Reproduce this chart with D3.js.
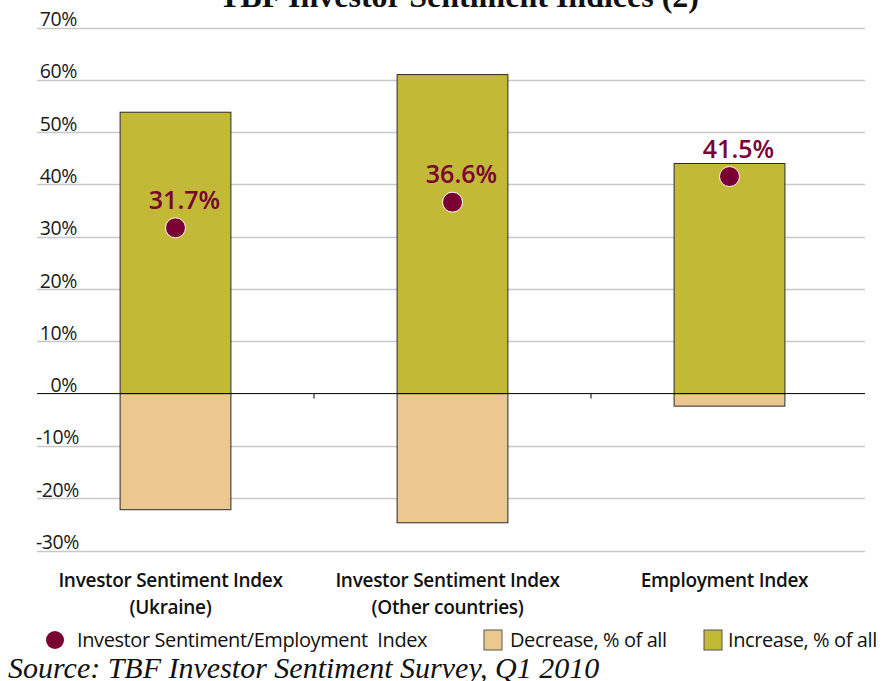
<!DOCTYPE html>
<html><head><meta charset="utf-8">
<script src="https://cdn.jsdelivr.net/npm/d3@7"></script>
<style>body{margin:0;background:#fff;} svg{display:block;}</style>
</head><body>
<svg id="c" width="893" height="681"></svg>
<script>
const categories = [["Investor Sentiment Index","(Ukraine)"],["Investor Sentiment Index","(Other countries)"],["Employment Index"]];
const increase = [53.8, 61.0, 44.0];
const decrease = [-22.2, -24.7, -2.4];
const indexVals = [31.7, 36.6, 41.5];
const yTicks = [70,60,50,40,30,20,10,0,-10,-20,-30];

const svg = d3.select("#c");
const sans = "'Open Sans', sans-serif";
const x = d3.scaleBand().domain(d3.range(categories.length)).range([37, 868]).padding(0);
const y = d3.scaleLinear().domain([-30, 70]).range([550.5, 27.5]);
const bw = x.bandwidth() * 0.4;
const cx = i => x(i) + x.bandwidth() / 2;

// grid
svg.append("g").selectAll("line").data(yTicks.filter(d => d !== 0)).join("line")
  .attr("x1", 37).attr("x2", 865).attr("y1", d => Math.round(y(d)) + 0.5).attr("y2", d => Math.round(y(d)) + 0.5)
  .attr("stroke", "#c8c8c8").attr("stroke-width", 1.3);

// y labels
svg.append("g").selectAll("text").data(yTicks).join("text")
  .attr("x", d => d < 0 ? 36 : 77).attr("y", d => y(d) - 1.5)
  .attr("text-anchor", d => d < 0 ? "start" : "end")
  .attr("font-family", sans).attr("font-size", 19.5).attr("fill", "#1a1a1a").attr("letter-spacing", -0.4)
  .text(d => (d < 0 ? "-" + Math.abs(d) : d) + "%");

// bars
const g = svg.append("g");
g.selectAll("rect.inc").data(increase).join("rect").attr("class", "inc")
  .attr("x", (d, i) => cx(i) - bw / 2).attr("width", bw)
  .attr("y", d => y(d)).attr("height", d => y(0) - y(d))
  .attr("fill", "#c2b936").attr("stroke", "#2a2a2a").attr("stroke-width", 1);
g.selectAll("rect.dec").data(decrease).join("rect").attr("class", "dec")
  .attr("x", (d, i) => cx(i) - bw / 2).attr("width", bw)
  .attr("y", y(0)).attr("height", d => y(d) - y(0))
  .attr("fill", "#ecc890").attr("stroke", "#2a2a2a").attr("stroke-width", 1);

// zero axis
svg.append("line").attr("x1", 37).attr("x2", 865).attr("y1", y(0)).attr("y2", y(0)).attr("stroke", "#000").attr("stroke-width", 1);
svg.append("g").selectAll("line").data([1, 2]).join("line")
  .attr("x1", d => x(d)).attr("x2", d => x(d)).attr("y1", y(0)).attr("y2", y(0) + 5)
  .attr("stroke", "#000").attr("stroke-width", 1);

// dots & labels
svg.append("g").selectAll("circle").data(indexVals).join("circle")
  .attr("cx", (d, i) => cx(i)).attr("cy", d => y(d)).attr("r", 10)
  .attr("fill", "#7a0034").attr("stroke", "#fff").attr("stroke-width", 1);
svg.append("g").selectAll("text").data(indexVals).join("text")
  .attr("x", (d, i) => cx(i) + 9).attr("y", d => y(d) - 19)
  .attr("text-anchor", "middle").attr("font-family", sans).attr("font-weight", 600)
  .attr("font-size", 25).attr("fill", "#7a0034")
  .text(d => d.toFixed(1) + "%");

// category labels
categories.forEach((lines, i) => {
  lines.forEach((t, j) => {
    svg.append("text").attr("x", cx(i) - 5).attr("y", 587 + j * 27).attr("text-anchor", "middle")
      .attr("font-family", sans).attr("font-weight", 600).attr("font-size", 19).attr("fill", "#111")
      .attr("letter-spacing", -0.3).text(t);
  });
});

// title
svg.append("text").attr("x", 459).attr("y", 7).attr("text-anchor", "middle")
  .attr("font-family", "'Liberation Serif', serif").attr("font-weight", "bold").attr("font-size", 32)
  .attr("fill", "#111").text("TBF Investor Sentiment Indices (2)");

// legend
const lg = svg.append("g").attr("font-family", sans).attr("font-size", 20).attr("fill", "#111").attr("letter-spacing", -0.4);
lg.append("circle").attr("cx", 55).attr("cy", 640).attr("r", 9).attr("fill", "#7a0034");
lg.append("text").attr("x", 77).attr("y", 647).text("Investor Sentiment/Employment  Index").attr("xml:space", "preserve").style("white-space", "pre");
lg.append("rect").attr("x", 484).attr("y", 630).attr("width", 18).attr("height", 20).attr("fill", "#ecc890").attr("stroke", "#555");
lg.append("text").attr("x", 510).attr("y", 647).text("Decrease, % of all");
lg.append("rect").attr("x", 704).attr("y", 630).attr("width", 18).attr("height", 20).attr("fill", "#c2b936").attr("stroke", "#555");
lg.append("text").attr("x", 728).attr("y", 647).text("Increase, % of all");

// source
svg.append("text").attr("x", 8).attr("y", 678).attr("font-family", "'Liberation Serif', serif")
  .attr("font-style", "italic").attr("font-size", 30).attr("fill", "#111")
  .text("Source: TBF Investor Sentiment Survey, Q1 2010");
</script>
</body></html>
